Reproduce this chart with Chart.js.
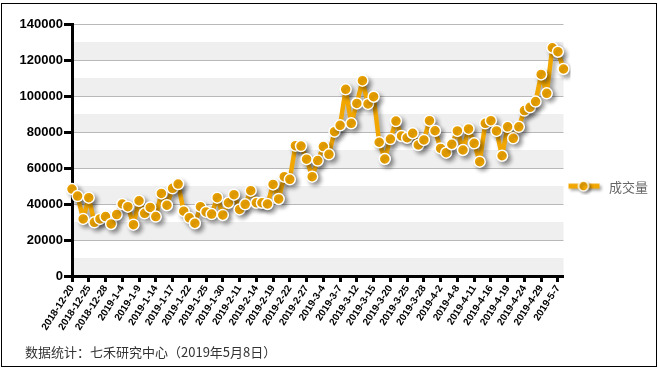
<!DOCTYPE html>
<html>
<head>
<meta charset="utf-8">
<script src="https://cdn.jsdelivr.net/npm/chart.js@4/dist/chart.umd.min.js"></script>
<style>
  body { margin: 0; background: #fff; }
  #wrap { position: relative; width: 659px; height: 369px; }
  #frame { position: absolute; left: 1px; top: 3px; width: 654px; height: 362px; border: 1px solid #000; pointer-events: none; }
  #note { position: absolute; left: 25px; top: 342px; font: 13px "Noto Sans CJK SC", sans-serif; color: #333; }
</style>
</head>
<body>
<div id="wrap">
  <canvas id="chart" width="659" height="369"></canvas>
  <div id="frame"></div>
  <div id="note">数据统计：七禾研究中心（2019年5月8日）</div>
</div>
<script>
// 交易日
const dates = [
  '2018-12-20','2018-12-21','2018-12-24','2018-12-25','2018-12-26','2018-12-27','2018-12-28',
  '2019-1-2','2019-1-3','2019-1-4','2019-1-7','2019-1-8','2019-1-9','2019-1-10','2019-1-11',
  '2019-1-14','2019-1-15','2019-1-16','2019-1-17','2019-1-18','2019-1-21','2019-1-22','2019-1-23',
  '2019-1-24','2019-1-25','2019-1-28','2019-1-29','2019-1-30','2019-1-31','2019-2-1',
  '2019-2-11','2019-2-12','2019-2-13','2019-2-14','2019-2-15','2019-2-18','2019-2-19','2019-2-20',
  '2019-2-21','2019-2-22','2019-2-25','2019-2-26','2019-2-27','2019-2-28','2019-3-1',
  '2019-3-4','2019-3-5','2019-3-6','2019-3-7','2019-3-8','2019-3-11','2019-3-12','2019-3-13',
  '2019-3-14','2019-3-15','2019-3-18','2019-3-19','2019-3-20','2019-3-21','2019-3-22',
  '2019-3-25','2019-3-26','2019-3-27','2019-3-28','2019-3-29','2019-4-1','2019-4-2','2019-4-3',
  '2019-4-4','2019-4-8','2019-4-9','2019-4-10','2019-4-11','2019-4-12','2019-4-15','2019-4-16',
  '2019-4-17','2019-4-18','2019-4-19','2019-4-22','2019-4-23','2019-4-24','2019-4-25','2019-4-26',
  '2019-4-29','2019-4-30','2019-5-6','2019-5-7','2019-5-8'
];

// 成交量
const volume = [
  48300, 44400, 31700, 43500, 29800, 31700, 33000, 28900, 34100, 40000,
  38500, 28500, 41800, 34800, 38100, 33000, 45900, 39300, 48700, 51100,
  36000, 32300, 29300, 38500, 35600, 34400, 43500, 33900, 40700, 45200,
  37000, 39800, 47400, 40700, 40700, 40000, 50900, 42800, 55200, 53700,
  72400, 72200, 64900, 55200, 64100, 71900, 67600, 80200, 83700, 103700,
  84800, 95900, 108500, 95600, 99600, 74300, 65000, 76100, 86100, 77800,
  76800, 79300, 72800, 75600, 86300, 80700, 70900, 68500, 73200, 80600,
  70000, 81700, 73700, 63500, 84800, 86300, 80600, 66800, 82900, 76500,
  82900, 91900, 93700, 96900, 112000, 101500, 126800, 124600, 115000
];

const yTicks = [0, 20000, 40000, 60000, 80000, 100000, 120000, 140000];
const labelStep = 3;

const orange = '#F2A700';

// 图例小图标：线 + 圆点
function legendIcon() {
  const c = document.createElement('canvas');
  c.width = 38; c.height = 16;
  const g = c.getContext('2d');
  g.shadowColor = 'rgba(0,0,0,0.35)';
  g.shadowBlur = 3;
  g.shadowOffsetX = 2;
  g.shadowOffsetY = 2;
  g.strokeStyle = orange;
  g.lineWidth = 5;
  g.beginPath(); g.moveTo(2, 7); g.lineTo(33, 7); g.stroke();
  g.fillStyle = orange;
  g.strokeStyle = '#fff';
  g.lineWidth = 1.5;
  g.beginPath(); g.arc(17, 7, 5, 0, Math.PI * 2); g.fill(); g.stroke();
  return c;
}

// 灰白相间的背景条
const bands = {
  id: 'bands',
  beforeDraw(chart) {
    const { ctx, chartArea, scales } = chart;
    const y = scales.y;
    ctx.save();
    ctx.fillStyle = '#EFEFEF';
    for (let v = 0; v < y.max; v += 20000) {
      const top = y.getPixelForValue(v + 10000);
      const bot = y.getPixelForValue(v);
      ctx.fillRect(chartArea.left, top, chartArea.right - chartArea.left, bot - top);
    }
    ctx.restore();
  }
};

// 折线阴影
const shadow = {
  id: 'shadow',
  beforeDatasetDraw(chart) {
    const ctx = chart.ctx;
    ctx.save();
    ctx.shadowColor = 'rgba(0,0,0,0.35)';
    ctx.shadowBlur = 4;
    ctx.shadowOffsetX = 3;
    ctx.shadowOffsetY = 3;
  },
  afterDatasetDraw(chart) {
    chart.ctx.restore();
  }
};

const icon = legendIcon();

new Chart(document.getElementById('chart'), {
  type: 'line',
  data: {
    labels: dates,
    datasets: [{
      label: '成交量',
      data: volume,
      borderColor: orange,
      backgroundColor: orange,
      borderWidth: 4.5,
      borderJoinStyle: 'round',
      pointRadius: 5.5,
      pointBackgroundColor: orange,
      pointBorderColor: '#fff',
      pointBorderWidth: 1.5,
      tension: 0
    }]
  },
  options: {
    responsive: false,
    animation: false,
    layout: { padding: { left: 8, top: 24, right: 1, bottom: 33 } },
    plugins: {
      tooltip: { enabled: false },
      legend: {
        position: 'right',
        title: { display: true, text: ' ', font: { size: 6 }, padding: { top: 0, bottom: 7 } },
        labels: {
          usePointStyle: true,
          pointStyleWidth: 34,
          padding: 5,
          color: '#000',
          font: { family: '"Noto Sans CJK SC", sans-serif', size: 13 },
          generateLabels: (chart) => chart.data.datasets.map((ds, i) => ({
            text: ds.label,
            pointStyle: icon,
            fillStyle: orange,
            strokeStyle: orange,
            lineWidth: 0,
            datasetIndex: i
          }))
        }
      }
    },
    scales: {
      x: {
        offset: false,
        border: { color: '#000', width: 3 },
        grid: {
          drawOnChartArea: false,
          tickLength: 6,
          tickWidth: 3,
          tickColor: (ctx) => ctx.index % labelStep === 0 ? '#000' : 'rgba(0,0,0,0)'
        },
        ticks: {
          autoSkip: false,
          minRotation: 57,
          maxRotation: 57,
          padding: 1,
          color: '#000',
          font: { family: '"Liberation Sans", Arial', size: 10, weight: 'bold' },
          callback: function (val, i) { return i % labelStep === 0 ? this.getLabelForValue(val) : ''; }
        },
        afterFit: (s) => { s.height = 60; }
      },
      y: {
        min: yTicks[0],
        max: yTicks[yTicks.length - 1],
        border: { color: '#000', width: 3 },
        grid: {
          color: '#B8B8B8',
          lineWidth: 1,
          tickLength: 8,
          tickWidth: 3,
          tickColor: (ctx) => ctx.tick && yTicks.includes(ctx.tick.value) ? '#000' : 'rgba(0,0,0,0)'
        },
        ticks: {
          stepSize: 10000,
          padding: 1,
          color: '#000',
          font: { family: '"Liberation Sans", Arial', size: 13, weight: 'bold' },
          callback: (v) => yTicks.includes(v) ? String(v) : ''
        },
        afterFit: (s) => { s.width = 64; }
      }
    }
  },
  plugins: [bands, shadow]
});
</script>
</body>
</html>
